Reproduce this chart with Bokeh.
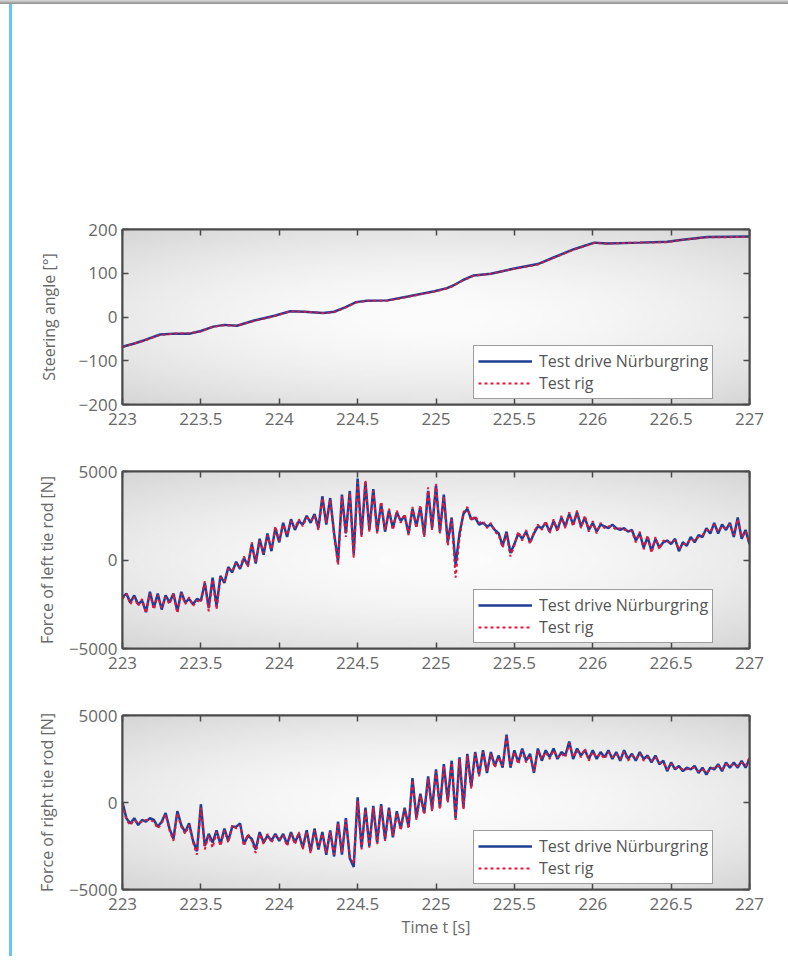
import numpy as np
from bokeh.plotting import figure
from bokeh.models import Range1d, FixedTicker, LinearAxis, CustomJSTickFormatter, Div
from bokeh.layouts import column, row
from bokeh.embed import file_html
from bokeh.resources import INLINE

# ---------------- data ----------------
X_TICKS = [223, 223.5, 224, 224.5, 225, 225.5, 226, 226.5, 227]
STEER_TICKS = [-200, -100, 0, 100, 200]
FORCE_TICKS = [-5000, 0, 5000]

SERIES_NAMES = ["Test drive Nürburgring", "Test rig"]
Y_LABELS = ["Steering angle [°]", "Force of left tie rod [N]", "Force of right tie rod [N]"]
X_LABEL = "Time t [s]"

STEER_T = [223.0, 223.07, 223.14, 223.24, 223.33, 223.43, 223.5, 223.58, 223.65, 223.73,
           223.84, 223.97, 224.07, 224.16, 224.28, 224.35, 224.42, 224.49, 224.56, 224.69,
           224.82, 224.99, 225.07, 225.11, 225.17, 225.24, 225.35, 225.5, 225.65, 225.75,
           225.88, 226.01, 226.09, 226.3, 226.475, 226.56, 226.73, 227.0]
STEER_DRIVE = [-68, -61, -53, -40, -38, -38, -32, -22, -18, -20,
               -8, 3, 13, 12, 9, 12, 22, 34, 37, 38,
               47, 59, 66, 72, 84, 95, 99, 111, 121, 136,
               155, 170, 168, 170, 172, 176, 183, 184]
STEER_RIG = [-69, -61, -54, -41, -38, -37, -33, -22, -19, -20,
             -9, 2, 13, 12, 9, 11, 21, 33, 37, 37,
             46, 58, 65, 71, 83, 94, 99, 110, 120, 135,
             154, 169, 168, 170, 171, 176, 182, 183]

# force signals sampled every 25 ms from t = 223 s
FORCE_T0 = 223.0
FORCE_DT = 0.025

LEFT_DRIVE = [
    -2100, -1900, -2400, -2000, -2500, -2300, -2950, -1800, -2700, -1900,
    -2800, -2000, -2400, -1900, -2900, -1800, -2400, -2200, -2500, -2200,
    -2300, -1300, -2700, -1000, -2600, -900, -1300, -400, -700, -100,
    -500, 100, -300, 900, -200, 1200, 300, 1500, 500, 1800,
    1000, 2100, 1300, 2300, 1700, 2200, 2000, 2500, 2100, 2600,
    1800, 3600, 2000, 3500, 1500, -100, 3700, 1500, 3900, 300,
    4600, 1400, 4400, 1700, 4000, 1600, 3200, 1600, 2800, 1800,
    2700, 2200, 2500, 1500, 2900, 1900, 3000, 1400, 3900, 1800,
    4200, 1600, 3700, 1000, 2400, -300, 1500, 2600, 2900, 2300,
    2400, 2000, 2100, 1900, 2000, 1700, 1500, 800, 1600, 400,
    900, 1500, 1200, 1600, 1000, 1500, 1900, 1800, 2100, 1600,
    2200, 1700, 2400, 1900, 2600, 2000, 2700, 1900, 2400, 1700,
    2100, 1600, 2000, 1900, 1800, 2000, 1800, 1700, 1800, 1600,
    1700, 1100, 1500, 700, 1300, 500, 1200, 700, 1000, 1100,
    900, 1200, 500, 1000, 800, 1300, 1000, 1400, 1300, 1800,
    1500, 2100, 1500, 2000, 1700, 2100, 1300, 2400, 1200, 1700,
    900]
LEFT_RIG = [
    -2200, -1900, -2500, -2100, -2600, -2200, -3000, -1900, -2800, -2000,
    -2700, -2100, -2500, -1900, -3000, -1900, -2500, -2100, -2600, -2300,
    -2400, -1200, -2900, -1100, -2800, -1000, -1200, -500, -600, -200,
    -400, 200, -400, 1000, -100, 1100, 400, 1400, 600, 1900,
    1100, 2000, 1400, 2200, 1800, 2300, 1900, 2400, 2200, 2500,
    1700, 3500, 2100, 3400, 1400, -300, 3600, 1300, 3800, 100,
    4400, 1300, 4500, 1600, 3900, 1500, 3300, 1700, 2900, 1700,
    2800, 2100, 2600, 1400, 3000, 1800, 3100, 1300, 4100, 1700,
    4300, 1500, 3600, 800, 2300, -1000, 1200, 2700, 3000, 2200,
    2500, 2100, 2200, 1800, 2100, 1600, 1400, 700, 1500, 200,
    800, 1600, 1100, 1700, 900, 1600, 2000, 1700, 2200, 1500,
    2300, 1600, 2500, 1800, 2700, 1900, 2800, 1800, 2500, 1600,
    2200, 1500, 2100, 1800, 1900, 1900, 1700, 1800, 1700, 1700,
    1600, 1000, 1600, 600, 1400, 400, 1300, 600, 1100, 1000,
    1000, 1100, 600, 900, 900, 1200, 1100, 1300, 1400, 1700,
    1600, 2000, 1600, 1900, 1800, 2000, 1400, 2300, 1300, 1600,
    1000]

RIGHT_DRIVE = [
    0, -900, -1200, -900, -1300, -1000, -1100, -900, -1000, -1400,
    -1100, -600, -1500, -2100, -500, -1300, -1700, -1200, -2200, -2800,
    -100, -2500, -1800, -2300, -1600, -2400, -1500, -2200, -1400, -1400,
    -1200, -2400, -1900, -2100, -2700, -1700, -2300, -1900, -2200, -1800,
    -2200, -1800, -2400, -1700, -2300, -1800, -2600, -1600, -2800, -1500,
    -2700, -1700, -3000, -1600, -3100, -1100, -3000, -900, -3200, -3700,
    300, -2600, -300, -2500, -200, -2300, -100, -2100, -300, -2000,
    -500, -1500, -300, -1400, 1400, -900, 500, -600, 1500, -400,
    1900, -300, 2200, 100, 2400, -900, 2600, -300, 2800, 900,
    2900, 1600, 3000, 1700, 2900, 2100, 2700, 2000, 3900, 2000,
    3000, 2300, 3100, 2400, 2800, 1700, 3100, 2400, 3000, 2600,
    3100, 2500, 2900, 2700, 3500, 2500, 3100, 2700, 3000, 2500,
    3000, 2500, 2900, 2600, 3000, 2500, 2900, 2400, 3000, 2500,
    2800, 2400, 2900, 2500, 2700, 2300, 2700, 2200, 2400, 1800,
    2300, 1900, 2100, 1800, 2000, 1900, 2100, 1700, 2000, 1600,
    2000, 1900, 2200, 1800, 2300, 2000, 2300, 2000, 2400, 2000,
    2500]
RIGHT_RIG = [
    -100, -1000, -1300, -1000, -1200, -1100, -1000, -1000, -1100, -1500,
    -1200, -700, -1600, -2200, -600, -1400, -1800, -1300, -2300, -3000,
    -300, -2700, -1900, -2600, -1700, -2500, -1600, -2300, -1300, -1500,
    -1300, -2500, -1800, -2200, -2900, -1800, -2400, -1800, -2300, -1900,
    -2100, -1900, -2500, -1800, -2400, -1700, -2700, -1700, -2900, -1600,
    -2600, -1800, -2900, -1700, -3000, -1200, -2900, -1000, -3100, -3500,
    100, -2700, -400, -2600, -300, -2400, -200, -2200, -400, -1900,
    -600, -1600, -400, -1500, 1300, -1000, 400, -700, 1400, -500,
    1800, -400, 2100, 0, 2300, -1000, 2500, -400, 2700, 800,
    2800, 1500, 2900, 1800, 2800, 2000, 2600, 2100, 3800, 2100,
    2900, 2200, 3000, 2300, 2700, 1800, 3000, 2500, 2900, 2500,
    3000, 2600, 2800, 2600, 3400, 2600, 3000, 2600, 3100, 2400,
    2900, 2600, 2800, 2500, 2900, 2600, 2800, 2500, 2900, 2400,
    2700, 2500, 2800, 2400, 2600, 2400, 2600, 2300, 2300, 1900,
    2200, 2000, 2000, 1900, 1900, 2000, 2000, 1800, 1900, 1700,
    1900, 2000, 2100, 1900, 2200, 2100, 2200, 2100, 2300, 2100,
    2600]

# ---------------- style ----------------
FONT = "Open Sans"
DARK = "#4a4a4a"
TICK_COLOR = "#686868"
BLUE = "#1f3f96"
RED = "#e3173e"


def force_times(vals):
    return [FORCE_T0 + FORCE_DT * i for i in range(len(vals))]


def bg_image(nx=200, ny=80):
    u = np.linspace(-1, 1, nx)[None, :]
    v = np.linspace(-1, 1, ny)[:, None]
    r = np.sqrt((0.85 * u) ** 2 + v ** 2) / np.sqrt(0.85 ** 2 + 1)
    g = np.clip(252 - 38 * r ** 1.7, 0, 255).astype(np.uint32)
    img = (np.uint32(255) << 24) | (g << 16) | (g << 8) | g
    return img.astype(np.uint32)


x_fmt = CustomJSTickFormatter(code="return tick.toString();")
y_fmt_code = 'return (tick < 0 ? "\\u2212" : "") + Math.abs(tick).toString();'


def style_axis(ax, ticks, labels=True, fmt=None, standoff=5):
    ax.ticker = FixedTicker(ticks=ticks)
    ax.major_tick_in = 6
    ax.major_tick_out = 0
    ax.minor_tick_line_color = None
    ax.major_tick_line_color = DARK
    ax.major_tick_line_width = 1.5
    ax.axis_line_color = DARK
    ax.axis_line_width = 2
    ax.major_label_text_font = FONT
    ax.major_label_text_color = TICK_COLOR
    ax.axis_label_text_font = FONT
    ax.axis_label_text_font_style = "normal"
    ax.axis_label_text_color = TICK_COLOR
    ax.axis_label_text_font_size = "16px"
    if labels:
        ax.major_label_text_font_size = "17px"
        ax.major_label_standoff = standoff
        if fmt is not None:
            ax.formatter = fmt
    else:
        # tick marks only, no labels drawn
        ax.major_label_text_font_size = "1px"
        ax.major_label_text_color = None
        ax.major_label_text_alpha = 0
        ax.major_label_standoff = 0


def make_panel(t_drive, drive, t_rig, rig, yr, yticks, ylabel, xlabel,
               top, fh, bottom, ylabel_standoff):
    p = figure(frame_width=627, frame_height=fh,
               x_range=Range1d(223, 227), y_range=Range1d(*yr),
               output_backend="svg", toolbar_location=None,
               min_border_left=110, min_border_right=25,
               min_border_top=top, min_border_bottom=bottom,
               background_fill_color="#eeeeee", border_fill_color="white",
               outline_line_color=DARK, outline_line_width=2)
    p.grid.visible = False

    p.image_rgba(image=[bg_image()], x=223, y=yr[0], dw=4, dh=yr[1] - yr[0])

    p.line(t_drive, drive, line_color=BLUE, line_width=2.5, legend_label=SERIES_NAMES[0])
    p.line(t_rig, rig, line_color=RED, line_width=2, line_dash="3 3",
           legend_label=SERIES_NAMES[1])

    style_axis(p.xaxis[0], X_TICKS, True, x_fmt, standoff=8)
    style_axis(p.yaxis[0], yticks, True, CustomJSTickFormatter(code=y_fmt_code), standoff=5)
    p.yaxis[0].axis_label = ylabel
    p.yaxis[0].axis_label_standoff = ylabel_standoff
    if xlabel:
        p.xaxis[0].axis_label = xlabel
        p.xaxis[0].axis_label_standoff = 3

    top_ax = LinearAxis()
    style_axis(top_ax, X_TICKS, False)
    p.add_layout(top_ax, "above")
    right_ax = LinearAxis()
    style_axis(right_ax, yticks, False)
    p.add_layout(right_ax, "right")

    lg = p.legend[0]
    lg.location = (351, 5)
    lg.margin = 0
    lg.padding = 4
    lg.spacing = 0
    lg.border_line_color = "#3c3c3c"
    lg.border_line_width = 1.5
    lg.background_fill_color = "white"
    lg.background_fill_alpha = 1
    lg.label_text_font = FONT
    lg.label_text_font_size = "16px"
    lg.label_text_color = "#555555"
    lg.glyph_width = 54
    lg.glyph_height = 20
    lg.label_height = 20
    lg.label_standoff = 7
    return p


p1 = make_panel(STEER_T, STEER_DRIVE, STEER_T, STEER_RIG, (-200, 200), STEER_TICKS,
                Y_LABELS[0], None, 225, 175, 34, 16)
p2 = make_panel(force_times(LEFT_DRIVE), LEFT_DRIVE, force_times(LEFT_RIG), LEFT_RIG,
                (-5000, 5000), FORCE_TICKS, Y_LABELS[1], None, 33, 177, 34, 8)
p3 = make_panel(force_times(RIGHT_DRIVE), RIGHT_DRIVE, force_times(RIGHT_RIG), RIGHT_RIG,
                (-5000, 5000), FORCE_TICKS, Y_LABELS[2], X_LABEL, 33, 174, 56, 8)

top_rule = Div(text="", width=788, height=4, margin=(0, 0, 0, 0),
               styles={"background": "linear-gradient(#dadada, #8c8c8c)"})
bar = Div(text="", width=3, height=952, margin=(0, 0, 0, 9),
          styles={"background-color": "#66c8f0"})
layout = column(top_rule, row(bar, column(p1, p2, p3, spacing=0), spacing=0), spacing=0)

open("out.html", "w", encoding="utf-8").write(file_html(layout, INLINE))
